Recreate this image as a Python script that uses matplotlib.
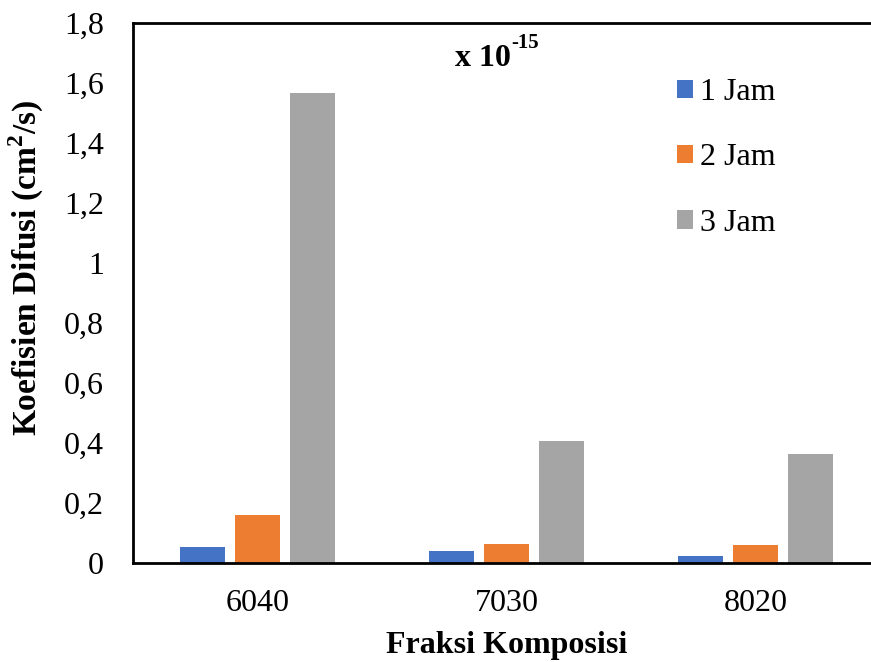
import matplotlib
matplotlib.use('Agg')
import matplotlib.pyplot as plt
import numpy as np

plt.rcParams['font.family'] = ['Liberation Serif', 'DejaVu Serif']
plt.rcParams['mathtext.fontset'] = 'custom'
plt.rcParams['mathtext.rm'] = 'Liberation Serif'
plt.rcParams['mathtext.bf'] = 'Liberation Serif:bold'

categories = ['6040', '7030', '8020']
series_names = ['1 Jam', '2 Jam', '3 Jam']
jam1 = [0.053, 0.040, 0.024]
jam2 = [0.160, 0.064, 0.060]
jam3 = [1.567, 0.407, 0.363]
colors = ['#4472C4', '#ED7D31', '#A5A5A5']
yticks = [0, 0.2, 0.4, 0.6, 0.8, 1.0, 1.2, 1.4, 1.6, 1.8]
ytick_labels = ['0', '0,2', '0,4', '0,6', '0,8', '1', '1,2', '1,4', '1,6', '1,8']

fig = plt.figure(figsize=(8.71, 6.62), dpi=100)
ax = fig.add_axes([133 / 871, 99 / 662, 747 / 871, 540 / 662])

x = np.arange(len(categories))
w = 0.177
step = 0.221
for i, (vals, name) in enumerate(zip([jam1, jam2, jam3], series_names)):
    ax.bar(x + (i - 1) * step, vals, width=w, color=colors[i], label=name, zorder=2)

ax.set_xlim(-0.5, 2.5)
ax.set_ylim(0, 1.8)
ax.set_xticks(x)
ax.set_xticklabels(categories, fontsize=23)
ax.set_yticks(yticks)
ax.set_yticklabels(ytick_labels, fontsize=23)
ax.tick_params(length=0)
ax.tick_params(axis='y', pad=21)
ax.tick_params(axis='x', pad=19)

for side in ['left', 'top', 'bottom']:
    ax.spines[side].set_linewidth(2)
    ax.spines[side].set_color('black')
ax.spines['right'].set_visible(False)

ax.set_xlabel('Fraksi Komposisi', fontsize=23, fontweight='bold', labelpad=9)
ax.set_ylabel(r'Koefisien Difusi (cm$^{\mathbf{2}}$/s)', fontsize=24, fontweight='bold')
ax.yaxis.set_label_coords(-0.117, 0.546)

# scale factor note: "x 10" with a raised "-15"
t1 = ax.text(0.431, 0.920, 'x 10', transform=ax.transAxes, fontsize=23,
             fontweight='bold', ha='left', va='baseline')
ax.annotate('-15', xy=(1.0, 1.03), xycoords=t1, fontsize=15, fontweight='bold',
            ha='left', va='center')

ax.legend(loc='upper left', bbox_to_anchor=(0.728, 0.898), frameon=False, fontsize=23,
          handlelength=0.5, handleheight=0.5, handletextpad=0.22, labelspacing=1.14,
          borderaxespad=0, borderpad=0)

fig.savefig('out.png', dpi=100)
